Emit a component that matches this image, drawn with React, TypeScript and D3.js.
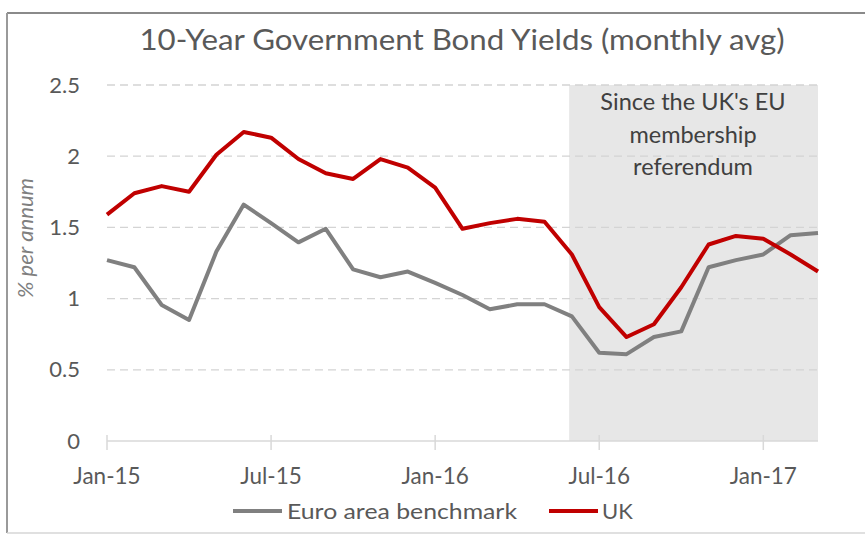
import React from "react";
import * as d3 from "d3";

const months = [
  "Jan-15","Feb-15","Mar-15","Apr-15","May-15","Jun-15","Jul-15","Aug-15","Sep-15","Oct-15","Nov-15","Dec-15",
  "Jan-16","Feb-16","Mar-16","Apr-16","May-16","Jun-16","Jul-16","Aug-16","Sep-16","Oct-16","Nov-16","Dec-16",
  "Jan-17","Feb-17","Mar-17",
];
const ukYields = [
  1.59, 1.74, 1.79, 1.75, 2.01, 2.17, 2.13, 1.98, 1.88, 1.84, 1.98, 1.92,
  1.78, 1.49, 1.53, 1.56, 1.54, 1.31, 0.94, 0.73, 0.82, 1.08, 1.38, 1.44,
  1.42, 1.31, 1.19,
];
const euroYields = [
  1.27, 1.22, 0.955, 0.85, 1.33, 1.66, 1.53, 1.395, 1.49, 1.205, 1.15, 1.19,
  1.11, 1.025, 0.925, 0.96, 0.96, 0.875, 0.62, 0.61, 0.73, 0.77, 1.22, 1.27,
  1.31, 1.445, 1.46,
];
const yTicks = [0, 0.5, 1, 1.5, 2, 2.5];
const xTickLabels = ["Jan-15", "Jul-15", "Jan-16", "Jul-16", "Jan-17"];
const shadeStart = 16.9; // month index (just before the June 2016 referendum)
const annotationLines = ["Since the UK's EU", "membership", "referendum"];
const seriesNames = ["Euro area benchmark", "UK"];

const W = 865;
const H = 534;
const FONT = "Lato, 'Open Sans', sans-serif";

export default function App() {
  const x = d3.scaleLinear().domain([0, months.length - 1]).range([107, 818]);
  const y = d3.scaleLinear().domain([0, 2.5]).range([441, 85]);
  const line = d3
    .line<number>()
    .x((_, i) => x(i))
    .y((d) => y(d));

  const xMax = x(months.length - 1);

  return (
    <svg
      width={W}
      height={H}
      style={{ position: "absolute", left: 0, top: 0, background: "#fff" }}
      fontFamily={FONT}
    >
      {/* frame */}
      <line x1={7} x2={W + 5} y1={13} y2={13} stroke="#8a8a8a" strokeWidth={2} />
      <line x1={7} x2={7} y1={13} y2={533} stroke="#9a9a9a" strokeWidth={2} />
      <line x1={7} x2={W + 5} y1={533} y2={533} stroke="#d6d6d6" strokeWidth={1.5} />

      {/* title */}
      <text
        x={462}
        y={50}
        textAnchor="middle"
        fontSize={29}
        fill="#595959"
        textLength={645}
        lengthAdjust="spacingAndGlyphs"
      >
        10-Year Government Bond Yields (monthly avg)
      </text>

      {/* shaded region */}
      <rect
        x={x(shadeStart)}
        y={y(2.5)}
        width={xMax - x(shadeStart)}
        height={y(0) - y(2.5)}
        fill="#e7e7e7"
      />

      {/* gridlines */}
      {yTicks
        .filter((t) => t > 0)
        .map((t) => (
          <line
            key={t}
            x1={x(0)}
            x2={xMax}
            y1={y(t)}
            y2={y(t)}
            stroke="#d4d4d4"
            strokeWidth={1.3}
            strokeDasharray="8,5"
          />
        ))}

      {/* x axis */}
      <line x1={x(0)} x2={xMax} y1={y(0)} y2={y(0)} stroke="#d9d9d9" strokeWidth={1.5} />
      {xTickLabels.map((lab) => {
        const i = months.indexOf(lab);
        return (
          <g key={lab}>
            <line x1={x(i)} x2={x(i)} y1={y(0) - 6} y2={y(0) + 9} stroke="#d9d9d9" strokeWidth={1.5} />
            <text x={x(i)} y={484} textAnchor="middle" fontSize={22.5} fill="#595959">
              {lab}
            </text>
          </g>
        );
      })}

      {/* y tick labels */}
      {yTicks.map((t) => (
        <text key={t} x={80} y={y(t) + 7.5} textAnchor="end" fontSize={22} fill="#595959">
          {t}
        </text>
      ))}

      {/* y axis title */}
      <text
        transform={`translate(33, 238) rotate(-90)`}
        textAnchor="middle"
        fontSize={21}
        fontStyle="italic"
        fill="#7f7f7f"
        textLength={120}
        lengthAdjust="spacingAndGlyphs"
      >
        % per annum
      </text>

      {/* annotation */}
      {annotationLines.map((l, i) => (
        <text
          key={l}
          x={693}
          y={110 + i * 32.5}
          textAnchor="middle"
          fontSize={23.5}
          fill="#404040"
        >
          {l}
        </text>
      ))}

      {/* series */}
      <path d={line(euroYields) || ""} fill="none" stroke="#808080" strokeWidth={4} strokeLinejoin="round" />
      <path d={line(ukYields) || ""} fill="none" stroke="#c00000" strokeWidth={4} strokeLinejoin="round" />

      {/* legend */}
      <line x1={233} x2={282} y1={511} y2={511} stroke="#808080" strokeWidth={4} />
      <text x={287} y={518.5} fontSize={22} fill="#595959" textLength={230} lengthAdjust="spacingAndGlyphs">
        {seriesNames[0]}
      </text>
      <line x1={549} x2={598} y1={511} y2={511} stroke="#c00000" strokeWidth={4} />
      <text x={602} y={518.5} fontSize={22} fill="#595959">
        {seriesNames[1]}
      </text>
    </svg>
  );
}
